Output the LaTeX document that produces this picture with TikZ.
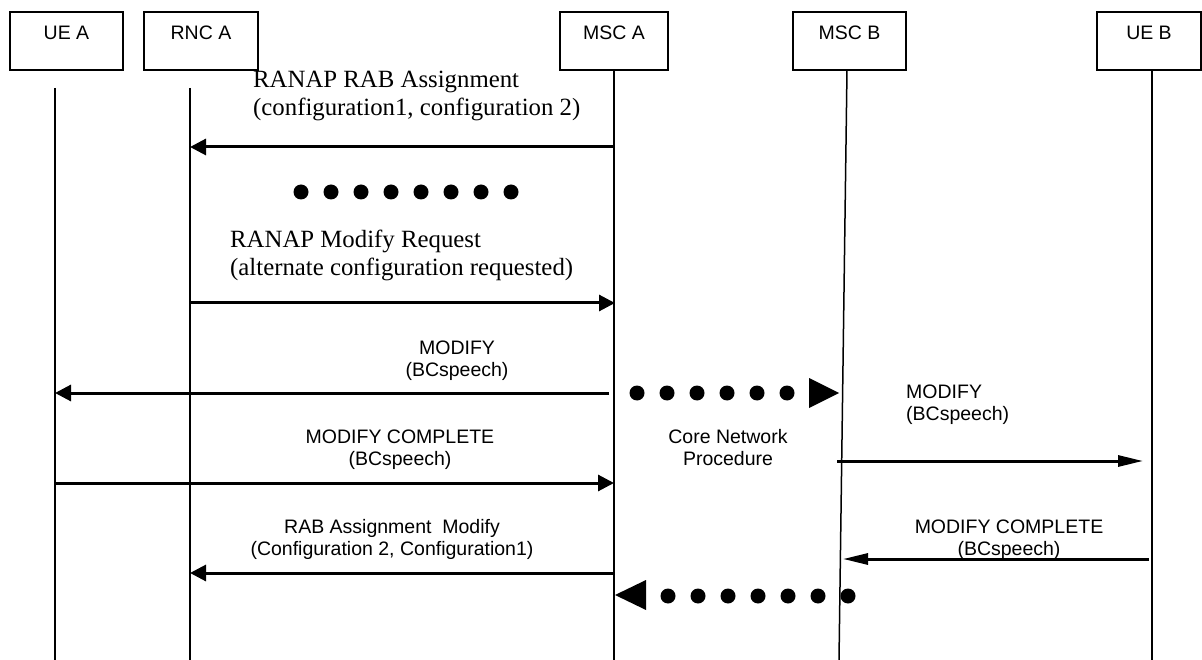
\documentclass[tikz,border=0pt]{standalone}
\usepackage{fontspec}
\setmainfont{Liberation Serif}
\setsansfont{Liberation Sans}
\usetikzlibrary{arrows.meta}

\begin{document}
\begin{tikzpicture}[x=1pt,y=-1pt,
  entity/.style={draw,line width=1.4pt,inner sep=0pt,text height=28pt,text depth=30pt,
    font=\sffamily\fontsize{19.5}{22}\selectfont},
  lifeline/.style={line width=1.5pt},
  sig/.style={line width=3pt,-{Triangle[length=16pt,width=16pt]}},
  sigthin/.style={line width=3pt,-{Triangle[length=25pt,width=11pt]}},
  lbl/.style={font=\sffamily\fontsize{19.5}{22}\selectfont,align=center,inner sep=0pt,anchor=base},
  rlbl/.style={font=\fontsize{24.8}{28}\selectfont,align=left,inner sep=0pt,anchor=base west},
  bigdot/.style={fill,circle,minimum size=15pt,inner sep=0pt}]
\useasboundingbox (0,0) rectangle (1202,660);

% entities
\node[entity,minimum width=113pt] (uea)  at (66.5,41) {UE A};
\node[entity,minimum width=114pt] (rnca) at (201,41)  {RNC A};
\node[entity,minimum width=108pt] (msca) at (614,41)  {MSC A};
\node[entity,minimum width=113pt] (mscb) at (849.5,41) {MSC B};
\node[entity,minimum width=104pt] (ueb)  at (1149,41) {UE B};

% lifelines
\coordinate (uea-t)  at (55,88);   \coordinate (uea-b)  at (55,660);
\coordinate (rnca-t) at (190,88);  \coordinate (rnca-b) at (190,660);
\coordinate (msca-b) at (614,660);
\coordinate (mscb-t) at (847,70);  \coordinate (mscb-b) at (839,660);
\coordinate (ueb-t)  at (1152,70); \coordinate (ueb-b)  at (1152,660);
\draw[lifeline] (uea-t) -- (uea-b);
\draw[lifeline] (rnca-t) -- (rnca-b);
\draw[lifeline] (msca.south) -- (msca-b);
\draw[lifeline] (mscb-t) -- (mscb-b);
\draw[lifeline] (ueb-t) -- (ueb-b);

% message end points
\coordinate (rab-s) at (614,147);  \coordinate (rab-e) at (190,147);
\coordinate (req-s) at (190,303);  \coordinate (req-e) at (615,303);
\coordinate (mod-s) at (609,393);  \coordinate (mod-e) at (55,393);
\coordinate (cpl-s) at (55,483);   \coordinate (cpl-e) at (614,483);
\coordinate (ram-s) at (614,573);  \coordinate (ram-e) at (190,573);
\coordinate (modb-s) at (837,461); \coordinate (modb-e) at (1143,461);
\coordinate (cplb-s) at (1149,559);\coordinate (cplb-e) at (843,559);

\path (rab-s) edge[sig] (rab-e)
      (req-s) edge[sig] (req-e)
      (mod-s) edge[sig] (mod-e)
      (cpl-s) edge[sig] (cpl-e)
      (ram-s) edge[sig] (ram-e);
\path (modb-s) edge[sigthin] (modb-e)
      (cplb-s) edge[sigthin] (cplb-e);

% labels
\node[rlbl] (rab-l) at (253,116) {RANAP RAB Assignment\\(configuration1, configuration 2)};
\node[rlbl] (req-l) at (230,276) {RANAP Modify Request\\(alternate configuration requested)};
\node[lbl] (mod-l)  at (457,376) {MODIFY\\(BCspeech)};
\node[lbl] (cpl-l)  at (400,465) {MODIFY COMPLETE\\(BCspeech)};
\node[lbl] (ram-l)  at (392,555) {RAB Assignment~~Modify\\(Configuration 2, Configuration1)};
\node[lbl] (core-l) at (728,465) {Core Network\\Procedure};
\node[lbl,align=left,anchor=base west] (modb-l) at (906,420) {MODIFY\\(BCspeech)};
\node[lbl] (cplb-l) at (1009,555) {MODIFY COMPLETE\\(BCspeech)};

% dotted gaps and core network exchange
\foreach \x in {301,331,...,511} \node[bigdot] at (\x,192) {};
\foreach \x in {637,667,...,787} \node[bigdot] at (\x,393) {};
\fill (809,378) -- (839,393) -- (809,408) -- cycle;
\foreach \x in {668,698,...,848} \node[bigdot] at (\x,596) {};
\fill (646,580) -- (615,595) -- (646,610) -- cycle;
\end{tikzpicture}
\end{document}
